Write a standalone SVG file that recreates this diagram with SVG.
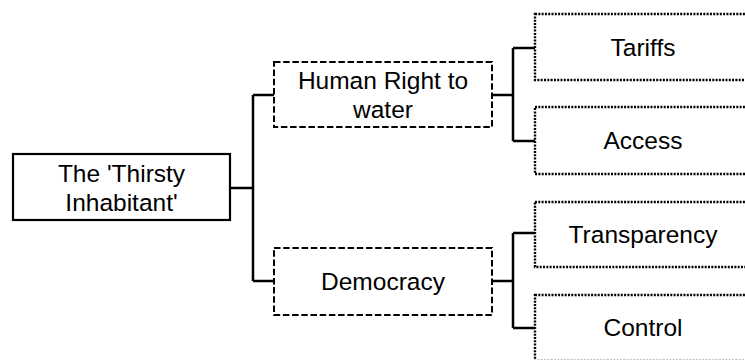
<svg xmlns="http://www.w3.org/2000/svg" width="745" height="360" viewBox="0 0 745 360">
<style>
.box{fill:#fff;stroke:#000;stroke-width:2}
.l1{stroke-width:2.2}
.l2{stroke-dasharray:6.5 2.7}
.l3{stroke-width:2.4;stroke-dasharray:2 1.3}
.t{font-family:"Liberation Sans",Arial,sans-serif;font-size:24.5px;fill:#000;text-anchor:middle}
.c{fill:none;stroke:#000;stroke-width:2.5}
</style>
<rect width="745" height="360" fill="#fff"/>
<g id="connectors">
<path class="c" d="M230 188H253M253 95V281M253 95H274M253 281H274"/>
<path class="c" d="M492 95H513M513 48V141M513 48H535M513 141H535"/>
<path class="c" d="M492 281H513M513 233V328M513 233H535M513 328H535"/>
</g>
<g id="root">
<rect class="box l1" x="13" y="154" width="217" height="66"/>
<text class="t" x="121.5" y="182">The 'Thirsty</text>
<text class="t" x="121.5" y="211">Inhabitant'</text>
</g>
<g id="human-right">
<rect class="box l2" x="274" y="62" width="218" height="65"/>
<text class="t" x="383" y="89">Human Right to</text>
<text class="t" x="383" y="118">water</text>
</g>
<g id="democracy">
<rect class="box l2" x="274" y="248" width="218" height="67"/>
<text class="t" x="383" y="290">Democracy</text>
</g>
<g id="tariffs">
<rect class="box l3" x="535" y="14" width="220" height="66"/>
<text class="t" x="643" y="56">Tariffs</text>
</g>
<g id="access">
<rect class="box l3" x="535" y="107" width="220" height="67"/>
<text class="t" x="643" y="149">Access</text>
</g>
<g id="transparency">
<rect class="box l3" x="535" y="202" width="220" height="65"/>
<text class="t" x="643" y="243">Transparency</text>
</g>
<g id="control">
<rect class="box l3" x="535" y="295" width="220" height="66"/>
<text class="t" x="643" y="336">Control</text>
</g>
</svg>
